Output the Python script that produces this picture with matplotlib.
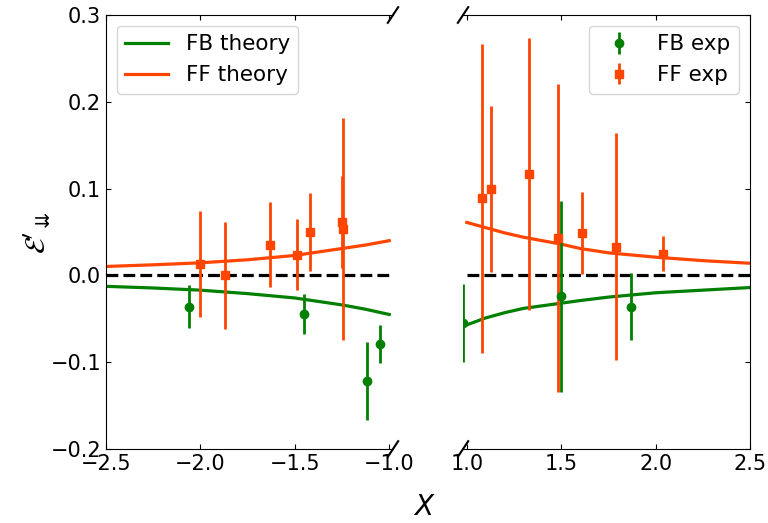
import numpy as np
import matplotlib
matplotlib.use('Agg')
import matplotlib.pyplot as plt

# theory curves
x_th_left = [-2.5, -2.25, -2.0, -1.75, -1.5, -1.375, -1.25, -1.125, -1.0]
fb_th_left = [-0.0126, -0.0145, -0.017, -0.021, -0.026, -0.030, -0.034, -0.039, -0.045]
ff_th_left = [0.0103, 0.0122, 0.0145, 0.018, 0.023, 0.027, 0.031, 0.035, 0.040]

x_th_right = [1.0, 1.1, 1.2, 1.3, 1.4, 1.5, 1.6, 1.75, 2.0, 2.25, 2.5]
fb_th_right = [-0.057, -0.049, -0.043, -0.038, -0.035, -0.032, -0.029, -0.025, -0.020, -0.017, -0.014]
ff_th_right = [0.061, 0.055, 0.049, 0.044, 0.040, 0.036, 0.031, 0.026, 0.021, 0.017, 0.014]

# experimental points
fb_x_left = [-2.06, -1.45, -1.115, -1.05]
fb_y_left = [-0.036, -0.044, -0.1215, -0.079]
fb_e_left = [0.025, 0.023, 0.045, 0.022]

ff_x_left = [-2.0, -1.87, -1.63, -1.49, -1.42, -1.25, -1.245]
ff_y_left = [0.0134, 0.0, 0.0356, 0.024, 0.050, 0.062, 0.053]
ff_e_left = [0.061, 0.062, 0.049, 0.041, 0.045, 0.053, 0.128]

fb_x_right = [0.98, 1.50, 1.87]
fb_y_right = [-0.0544, -0.024, -0.036]
fb_e_right = [0.045, 0.11, 0.039]

ff_x_right = [1.083, 1.127, 1.33, 1.485, 1.61, 1.79, 2.04]
ff_y_right = [0.089, 0.0997, 0.117, 0.043, 0.049, 0.033, 0.025]
ff_e_right = [0.178, 0.096, 0.157, 0.177, 0.047, 0.131, 0.0205]

green = 'green'
orange = 'orangered'

fig = plt.figure(figsize=(7.68, 5.23), dpi=100)
ax1 = fig.add_axes([0.138, 0.1415, 0.3737, 0.8298])
ax2 = fig.add_axes([0.6029, 0.1415, 0.3737, 0.8298])

# left panel
ax1.plot(x_th_left, fb_th_left, color=green, lw=2.3, label='FB theory')
ax1.plot(x_th_left, ff_th_left, color=orange, lw=2.3, label='FF theory')
ax1.plot([-2.5, -1.0], [0, 0], 'k--', lw=2.3)
ax1.errorbar(fb_x_left, fb_y_left, yerr=fb_e_left, fmt='o', color=green, ms=6, elinewidth=2)
ax1.errorbar(ff_x_left, ff_y_left, yerr=ff_e_left, fmt='s', color=orange, ms=6, elinewidth=2)

# right panel
ax2.plot(x_th_right, fb_th_right, color=green, lw=2.3)
ax2.plot(x_th_right, ff_th_right, color=orange, lw=2.3)
ax2.plot([1.0, 2.5], [0, 0], 'k--', lw=2.3)
ax2.errorbar(fb_x_right, fb_y_right, yerr=fb_e_right, fmt='o', color=green, ms=6, elinewidth=2, label='FB exp')
ax2.errorbar(ff_x_right, ff_y_right, yerr=ff_e_right, fmt='s', color=orange, ms=6, elinewidth=2, label='FF exp')

ax1.set_xlim(-2.5, -0.98)
ax2.set_xlim(0.98, 2.5)
for ax in (ax1, ax2):
    ax.set_ylim(-0.2, 0.3)
    ax.set_yticks([-0.2, -0.1, 0.0, 0.1, 0.2, 0.3])
ax1.set_xticks([-2.5, -2.0, -1.5, -1.0])
ax2.set_xticks([1.0, 1.5, 2.0, 2.5])

ax1.spines['right'].set_visible(False)
ax2.spines['left'].set_visible(False)
ax1.tick_params(direction='in', top=True, right=False, labelsize=15)
ax2.tick_params(direction='in', top=True, left=False, right=True,
                labelleft=False, labelright=False, labelsize=15)

ax1.set_ylabel(r"$\mathcal{E}'_{\downdownarrows}$", fontsize=20, labelpad=-2)
fig.text(0.553, 0.015, '$X$', fontsize=20, ha='center')

ax1.legend(loc='upper left', fontsize=15.5)
ax2.legend(loc='upper right', fontsize=15.5)

# break marks
d = 0.018
kw = dict(color='k', clip_on=False, lw=1.5)
ax1.plot((1 - d, 1 + d), (-d, +d), transform=ax1.transAxes, **kw)
ax1.plot((1 - d, 1 + d), (1 - d, 1 + d), transform=ax1.transAxes, **kw)
ax2.plot((-d, +d), (-d, +d), transform=ax2.transAxes, **kw)
ax2.plot((-d, +d), (1 - d, 1 + d), transform=ax2.transAxes, **kw)

plt.savefig('out.png', dpi=100)
